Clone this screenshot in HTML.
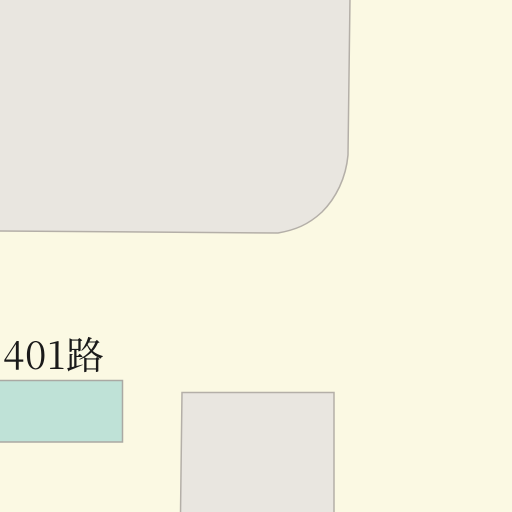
<!DOCTYPE html>
<html><head><meta charset="utf-8"><style>
html,body{margin:0;padding:0;background:#fbf9e3;}
svg{display:block;}
</style></head><body>
<svg width="512" height="512" viewBox="0 0 512 512">
<rect x="0" y="0" width="512" height="512" fill="#fbf9e3"/>
<path d="M-2,-2 L350,-2 L348,155 C346,178 336,198 322,212 C308,225 295,230 278,233 L-2,231 Z" fill="#e9e6e0" stroke="#b4afa8" stroke-width="1.5"/>
<rect x="-2" y="380.5" width="124.5" height="61.5" fill="#bfe2d7" stroke="#aaa9a3" stroke-width="1.5"/>
<path d="M182,392.5 L334,392.5 L334,514 L180.5,514 Z" fill="#e9e6e0" stroke="#b4afa8" stroke-width="1.5"/>
<text x="3" y="369" font-family="'Noto Serif CJK SC',serif" font-size="38" letter-spacing="1" fill="#1a1a1a">401路</text>
</svg>
</body></html>
